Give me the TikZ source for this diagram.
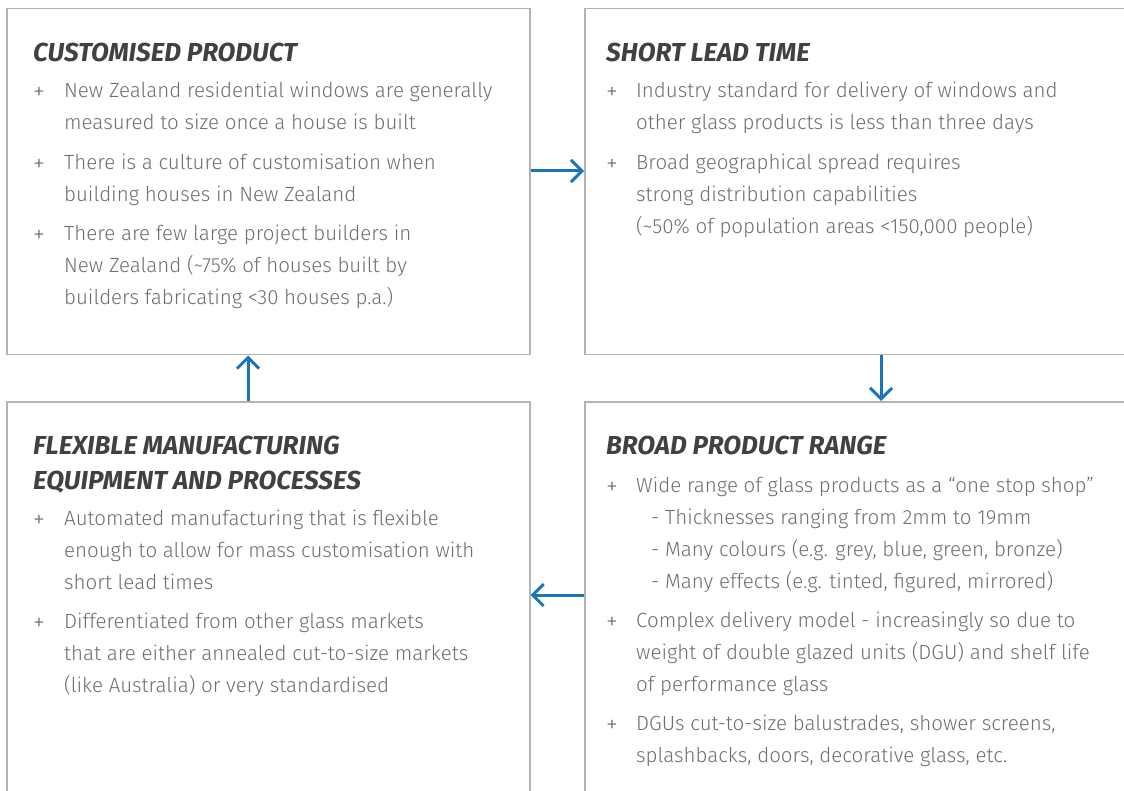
\documentclass[tikz,border=0pt]{standalone}
\usepackage{fontspec}
\setmainfont{Fira Sans}
\newfontfamily\lightfont{Fira Sans Light}
\usetikzlibrary{arrows.meta}

\definecolor{boxgray}{HTML}{B3B3B3}
\definecolor{txtgray}{HTML}{6D6E71}
\definecolor{headgray}{HTML}{414042}
\definecolor{flowblue}{HTML}{1B75BB}

\begin{document}
\begin{tikzpicture}[x=1pt, y=-1pt,
    panel/.style={draw=boxgray, line width=1.5pt, anchor=north west, inner sep=0pt},
    head/.style={anchor=north west, yshift=24.5pt, inner sep=0pt, headgray, align=left,
      font=\fontsize{26}{35}\selectfont\bfseries\itshape, execute at begin node=\strut},
    body/.style={anchor=north west, yshift=15.4pt, inner sep=0pt, txtgray, align=left,
      font=\lightfont\fontsize{20.5}{32}\selectfont, execute at begin node=\strut},
    plus/.style={anchor=center, inner sep=0pt, txtgray, font=\lightfont\fontsize{24}{32}\selectfont},
    flow/.style={flowblue, line width=3pt, -{Straight Barb[length=11pt,width=22pt]}}]
  \useasboundingbox (0,0) rectangle (1124,791);
  \clip (0,0) rectangle (1124,791);

  % the four panels
  \node[panel, minimum width=523pt, minimum height=346pt] (cust) at (6,8) {};
  \node[panel, minimum width=560pt, minimum height=346pt] (short) at (584,8) {};
  \node[panel, minimum width=523pt, minimum height=420pt] (flex) at (6,401) {};
  \node[panel, minimum width=560pt, minimum height=420pt] (range) at (584,401) {};

  % customised product
  \node[head] (custh) at (33,61) {CUSTOMISED PRODUCT};
  \node[plus] (custp1) at (39,93) {+};
  \node[body] (custi1) at (64,97) {New Zealand residential windows are generally\\measured to size once a house is built};
  \node[plus] (custp2) at (39,165) {+};
  \node[body] (custi2) at (64,169) {There is a culture of customisation when\\building houses in New Zealand};
  \node[plus] (custp3) at (39,236) {+};
  \node[body] (custi3) at (64,240) {There are few large project builders in\\New Zealand (\textasciitilde75\% of houses built by\\builders fabricating <30 houses p.a.)};

  % short lead time
  \node[head] (shorth) at (606,61) {SHORT LEAD TIME};
  \node[plus] (shortp1) at (612,93) {+};
  \node[body] (shorti1) at (636,97) {Industry standard for delivery of windows and\\other glass products is less than three days};
  \node[plus] (shortp2) at (612,165) {+};
  \node[body] (shorti2) at (636,169) {Broad geographical spread requires\\strong distribution capabilities\\(\textasciitilde50\% of population areas <150,000 people)};

  % flexible manufacturing
  \node[head] (flexh) at (33,460) {FLEXIBLE MANUFACTURING\\EQUIPMENT AND PROCESSES};
  \node[plus] (flexp1) at (39,521) {+};
  \node[body] (flexi1) at (64,525) {Automated manufacturing that is flexible\\enough to allow for mass customisation with\\short lead times};
  \node[plus] (flexp2) at (39,624) {+};
  \node[body] (flexi2) at (64,628) {Differentiated from other glass markets\\that are either annealed cut-to-size markets\\(like Australia) or very standardised};

  % broad product range
  \node[head] (rangeh) at (606,454) {BROAD PRODUCT RANGE};
  \node[plus] (rangep1) at (612,488) {+};
  \node[body] (rangei1) at (636,492) {Wide range of glass products as a “one stop shop”\\\hskip15pt- Thicknesses ranging from 2mm to 19mm\\\hskip15pt- Many colours (e.g. grey, blue, green, bronze)\\\hskip15pt- Many effects (e.g. tinted, figured, mirrored)};
  \node[plus] (rangep2) at (612,623) {+};
  \node[body] (rangei2) at (636,627) {Complex delivery model - increasingly so due to\\weight of double glazed units (DGU) and shelf life\\of performance glass};
  \node[plus] (rangep3) at (612,726) {+};
  \node[body] (rangei3) at (636,730) {DGUs cut-to-size balustrades, shower screens,\\splashbacks, doors, decorative glass, etc.};

  % the cycle
  \draw[flow] (cust.east |- 0,171) -- (short.west |- 0,171);
  \draw[flow] (short.south -| 881,0) -- (range.north -| 881,0);
  \draw[flow] (range.west |- 0,595) -- (flex.east |- 0,595);
  \draw[flow] (flex.north -| 248,0) -- (cust.south -| 248,0);
\end{tikzpicture}
\end{document}
